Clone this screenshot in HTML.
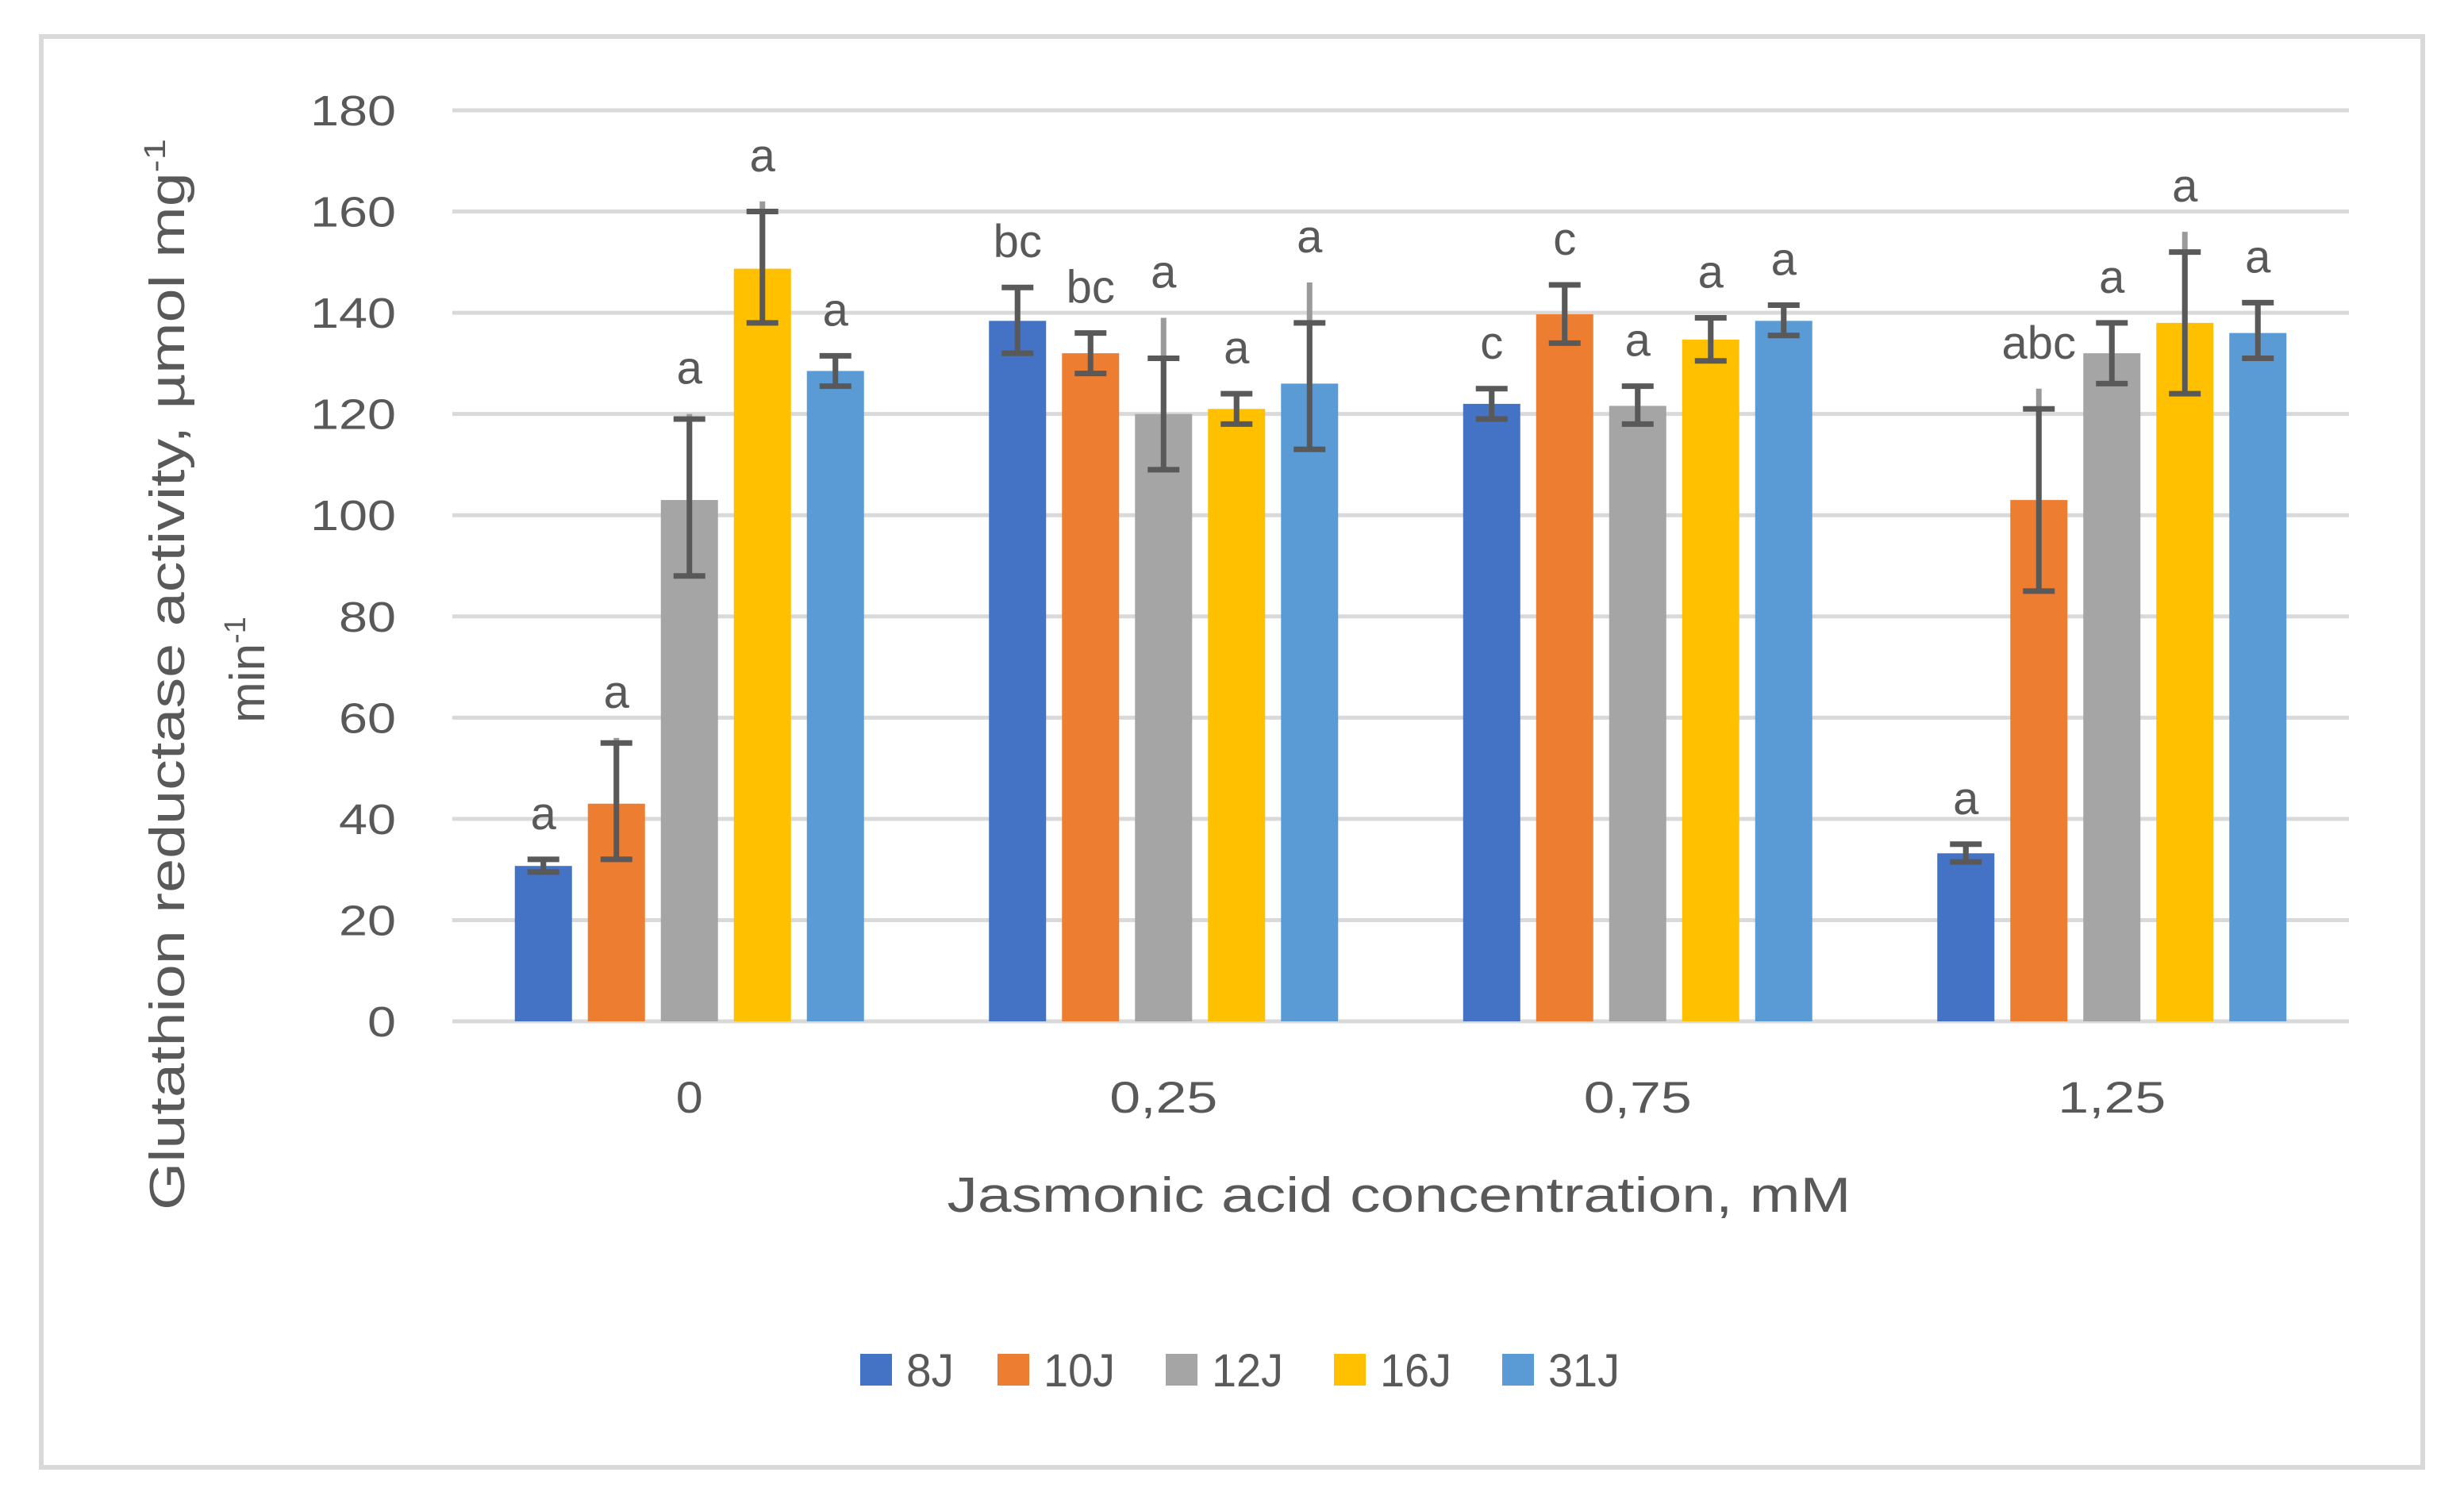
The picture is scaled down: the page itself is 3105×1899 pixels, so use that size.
<!DOCTYPE html>
<html><head><meta charset="utf-8"><style>
html,body{margin:0;padding:0;background:#fff;}
svg{display:block;}
text{font-family:"Liberation Sans",sans-serif;fill:#595959;}
</style></head><body>
<svg id="chart" xmlns="http://www.w3.org/2000/svg" width="3105" height="1899" viewBox="0 0 3105 1899">
<rect x="52" y="46" width="3001" height="1803" fill="#fff" stroke="#d9d9d9" stroke-width="6"/>
<g id="grid"></g>
<g id="bars"></g>
<g id="labels"></g>
<text transform="translate(232,850) rotate(-90)" text-anchor="middle" font-size="62" textLength="1350" lengthAdjust="spacingAndGlyphs">Glutathion reductase activity, µmol mg<tspan font-size="38" dy="-24">-1</tspan></text>
<text transform="translate(333,844) rotate(-90)" text-anchor="middle" font-size="62">min<tspan font-size="38" dy="-24">-1</tspan></text>
<text x="1763" y="1527" text-anchor="middle" font-size="62" textLength="1139" lengthAdjust="spacingAndGlyphs">Jasmonic acid concentration, mM</text>
<g id="legend"></g>
</svg>
<script>
const categories = ["0","0,25","0,75","1,25"];
const seriesNames = ["8J","10J","12J","16J","31J"];
const colors = ["#4472C4","#ED7D31","#A5A5A5","#FFC000","#5B9BD5"];
const yTicks = [0,20,40,60,80,100,120,140,160,180];
const v8J  = [30.7, 138.4, 122, 33.2];
const v10J = [43, 132, 139.7, 103];
const v12J = [103, 120, 121.6, 132];
const v16J = [148.7, 121, 134.7, 138];
const v31J = [128.5, 126, 138.4, 136];
const errLow  = [[29.5,132,119,31.5],[32,128,134,85],[88,109,118,126],[138,118,130.5,124],[125.5,113,135.5,131]];
const errHigh = [[32,145,125,35],[55,136,145.5,121],[119,131,125.5,138],[160,124,139,152],[131.5,138,141.5,142]];
const errTail = [[32,145,125,35],[56,136,145.5,125],[120,139,125.5,138],[162,124,139,156],[131.5,146,141.5,142]];
const sigLetters = [["a","bc","c","a"],["a","bc","c","abc"],["a","a","a","a"],["a","a","a","a"],["a","a","a","a"]];
const values = [v8J,v10J,v12J,v16J,v31J];

const NS="http://www.w3.org/2000/svg";
const plotL=570, plotR=2960, y0=1287, y180=139;
const yMax=180;
function yScale(v){return y0-(v/yMax)*(y0-y180);}
const catW=(plotR-plotL)/categories.length;
function catCenter(i){return plotL+catW*(i+0.5);}
const barW=72, step=92;
function barX(i,j){return catCenter(i)-(step*4+barW)/2+j*step;}
function mk(tag,attrs,parent){const e=document.createElementNS(NS,tag);for(const k in attrs)e.setAttribute(k,attrs[k]);parent.appendChild(e);return e;}

const grid=document.getElementById('grid');
yTicks.forEach(t=>{
  const l=mk('line',{x1:plotL,x2:plotR,y1:yScale(t),y2:yScale(t),stroke:'#d9d9d9','stroke-width':5},grid);
  
  
  const tx=mk('text',{x:499,y:yScale(t)+19,'text-anchor':'end','font-size':54},grid);
  
  
  const s=String(t); tx.setAttribute('textLength',s.length*36); tx.setAttribute('lengthAdjust','spacingAndGlyphs');
  tx.textContent=s;
});

const bars=document.getElementById('bars');
const labels=document.getElementById('labels');
categories.forEach((c,i)=>{
  const ct=mk('text',{x:catCenter(i),y:1402,'text-anchor':'middle','font-size':56},labels);
  
  
  ct.setAttribute('textLength',c.length*34);
  ct.setAttribute('lengthAdjust','spacingAndGlyphs');
  ct.textContent=c;
  seriesNames.forEach((s,j)=>{
    const v=values[j][i];
    const x=barX(i,j);
    const r=mk('rect',{x:x,y:yScale(v),width:barW,height:y0-yScale(v),fill:colors[j]},bars);
    
    
    const cx=x+barW/2;
    const tail=mk('line',{x1:cx,x2:cx,y1:yScale(errTail[j][i]),y2:yScale(v),stroke:'#9a9a9a','stroke-width':7},bars);
    
    
    const g=mk('g',{stroke:'#595959','stroke-width':7},bars);
    
    
    const hi=yScale(errHigh[j][i]), lo=yScale(errLow[j][i]);
    mk('line',{x1:cx,x2:cx,y1:hi,y2:lo},g);
    mk('line',{x1:cx-20,x2:cx+20,y1:hi,y2:hi},g);
    mk('line',{x1:cx-20,x2:cx+20,y1:lo,y2:lo},g);
    const top=Math.min(hi,yScale(errTail[j][i]));
    const lt=mk('text',{x:cx,y:top-38,'text-anchor':'middle','font-size':58},labels);
    
    
    lt.textContent=sigLetters[j][i];
  });
});

const legend=document.getElementById('legend');
const legX=[1084,1257,1469,1681,1893];
seriesNames.forEach((s,j)=>{
  const g=mk('g',{},legend);
  
  
  mk('rect',{x:legX[j],y:1706,width:40,height:40,fill:colors[j]},g);
  const t=mk('text',{x:legX[j]+58,y:1747,'font-size':58},g);
  t.setAttribute('textLength',s.length*30);
  t.setAttribute('lengthAdjust','spacingAndGlyphs');
  t.textContent=s;
});
</script>
</body></html>
